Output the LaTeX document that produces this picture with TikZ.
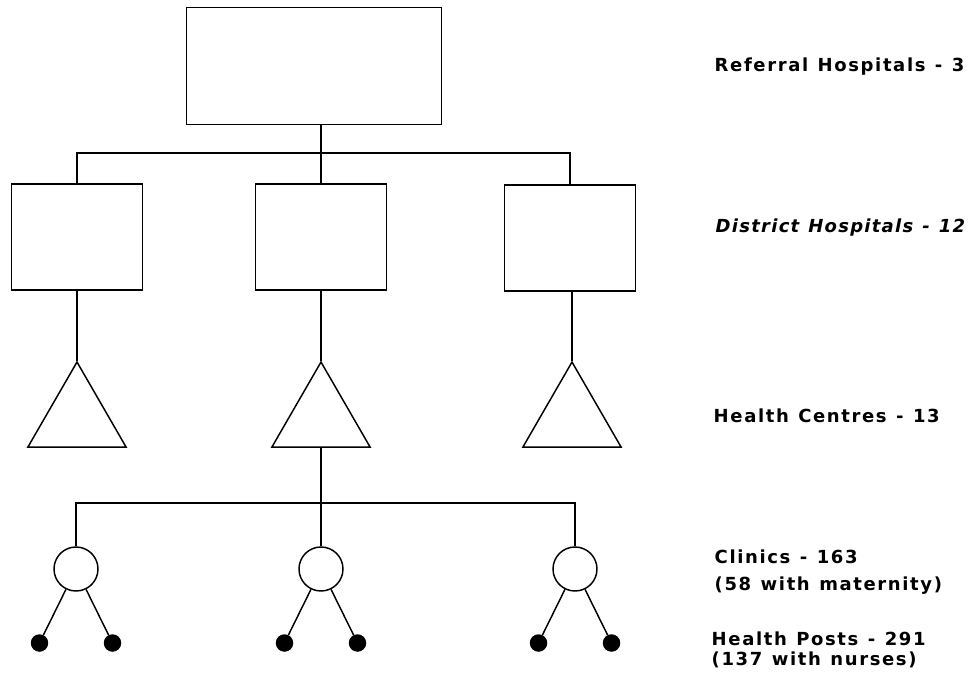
\documentclass[tikz,border=0pt]{standalone}
\usepackage{fontspec}
\newfontfamily\lblfont{DejaVu Sans}[LetterSpace=9,WordSpace=1.2]
\newfontfamily\lblfontnarrow{DejaVu Sans}[LetterSpace=7,WordSpace=1.2]
\usetikzlibrary{shapes.geometric}
\begin{document}
\begin{tikzpicture}[x=0.75pt,y=-0.75pt,line width=1.1pt,
  rbox/.style={draw,rectangle,inner sep=0pt,minimum width=191.25pt,minimum height=87.75pt},
  dbox/.style={draw,rectangle,inner sep=0pt,minimum width=98.25pt,minimum height=79.5pt},
  tri/.style={draw,regular polygon,regular polygon sides=3,minimum size=85pt,inner sep=0pt},
  clinic/.style={draw,circle,minimum size=33pt,inner sep=0pt},
  post/.style={draw,fill=black,circle,minimum size=12pt,inner sep=0pt},
  lbl/.style={anchor=base west,inner sep=0pt,font=\lblfont\bfseries\fontsize{13.5}{16}\selectfont}]
\useasboundingbox (0,0) rectangle (974,677);
% hospitals
\node[rbox] (top) at (314,66) {};
\node[dbox] (b1) at (77,237) {};
\node[dbox] (b2) at (321,237) {};
\node[dbox] (b3) at (570,238) {};
% health centres
\node[tri] (t1) at (77,418.7) {};
\node[tri] (t2) at (321,418.7) {};
\node[tri] (t3) at (572,418.7) {};
% clinics
\node[clinic] (c1) at (76,569) {};
\node[clinic] (c2) at (321,569) {};
\node[clinic] (c3) at (575,569) {};
% health posts
\node[post] (p1a) at (39.5,643) {};
\node[post] (p1b) at (112.5,643) {};
\node[post] (p2a) at (284.5,643) {};
\node[post] (p2b) at (357.5,643) {};
\node[post] (p3a) at (538.5,643) {};
\node[post] (p3b) at (611.5,643) {};
% bus coordinates
\coordinate (bus1) at (0,153);
\coordinate (bus2) at (0,503);
% connectors
\draw (top.south -| b2.north) -- (b2.north);
\draw (b1.north) |- (bus1 -| b2.north) -| (b3.north);
\draw (b1.south) -- (t1.north);
\draw (b2.south) -- (t2.north);
\draw (b3.south -| t3.north) -- (t3.north);
\draw (t2.south) -- (c2.north);
\draw (c1.north) |- (bus2 -| c2.north) -| (c3.north);
\draw (c1) -- (p1a);
\draw (c1) -- (p1b);
\draw (c2) -- (p2a);
\draw (c2) -- (p2b);
\draw (c3) -- (p3a);
\draw (c3) -- (p3b);
% labels
\node[lbl] (l1) at (714,72) {Referral Hospitals - 3};
\node[lbl,font=\lblfontnarrow\bfseries\itshape\fontsize{13.5}{16}\selectfont] (l2) at (715,233) {District Hospitals - 12};
\node[lbl] (l3) at (713,422) {Health Centres - 13};
\node[lbl] (l4) at (714,563) {Clinics - 163};
\node[lbl] (l5) at (714,590) {(58 with maternity)};
\node[lbl] (l6) at (711,645) {Health Posts - 291};
\node[lbl] (l7) at (711,665) {(137 with nurses)};
\end{tikzpicture}
\end{document}
